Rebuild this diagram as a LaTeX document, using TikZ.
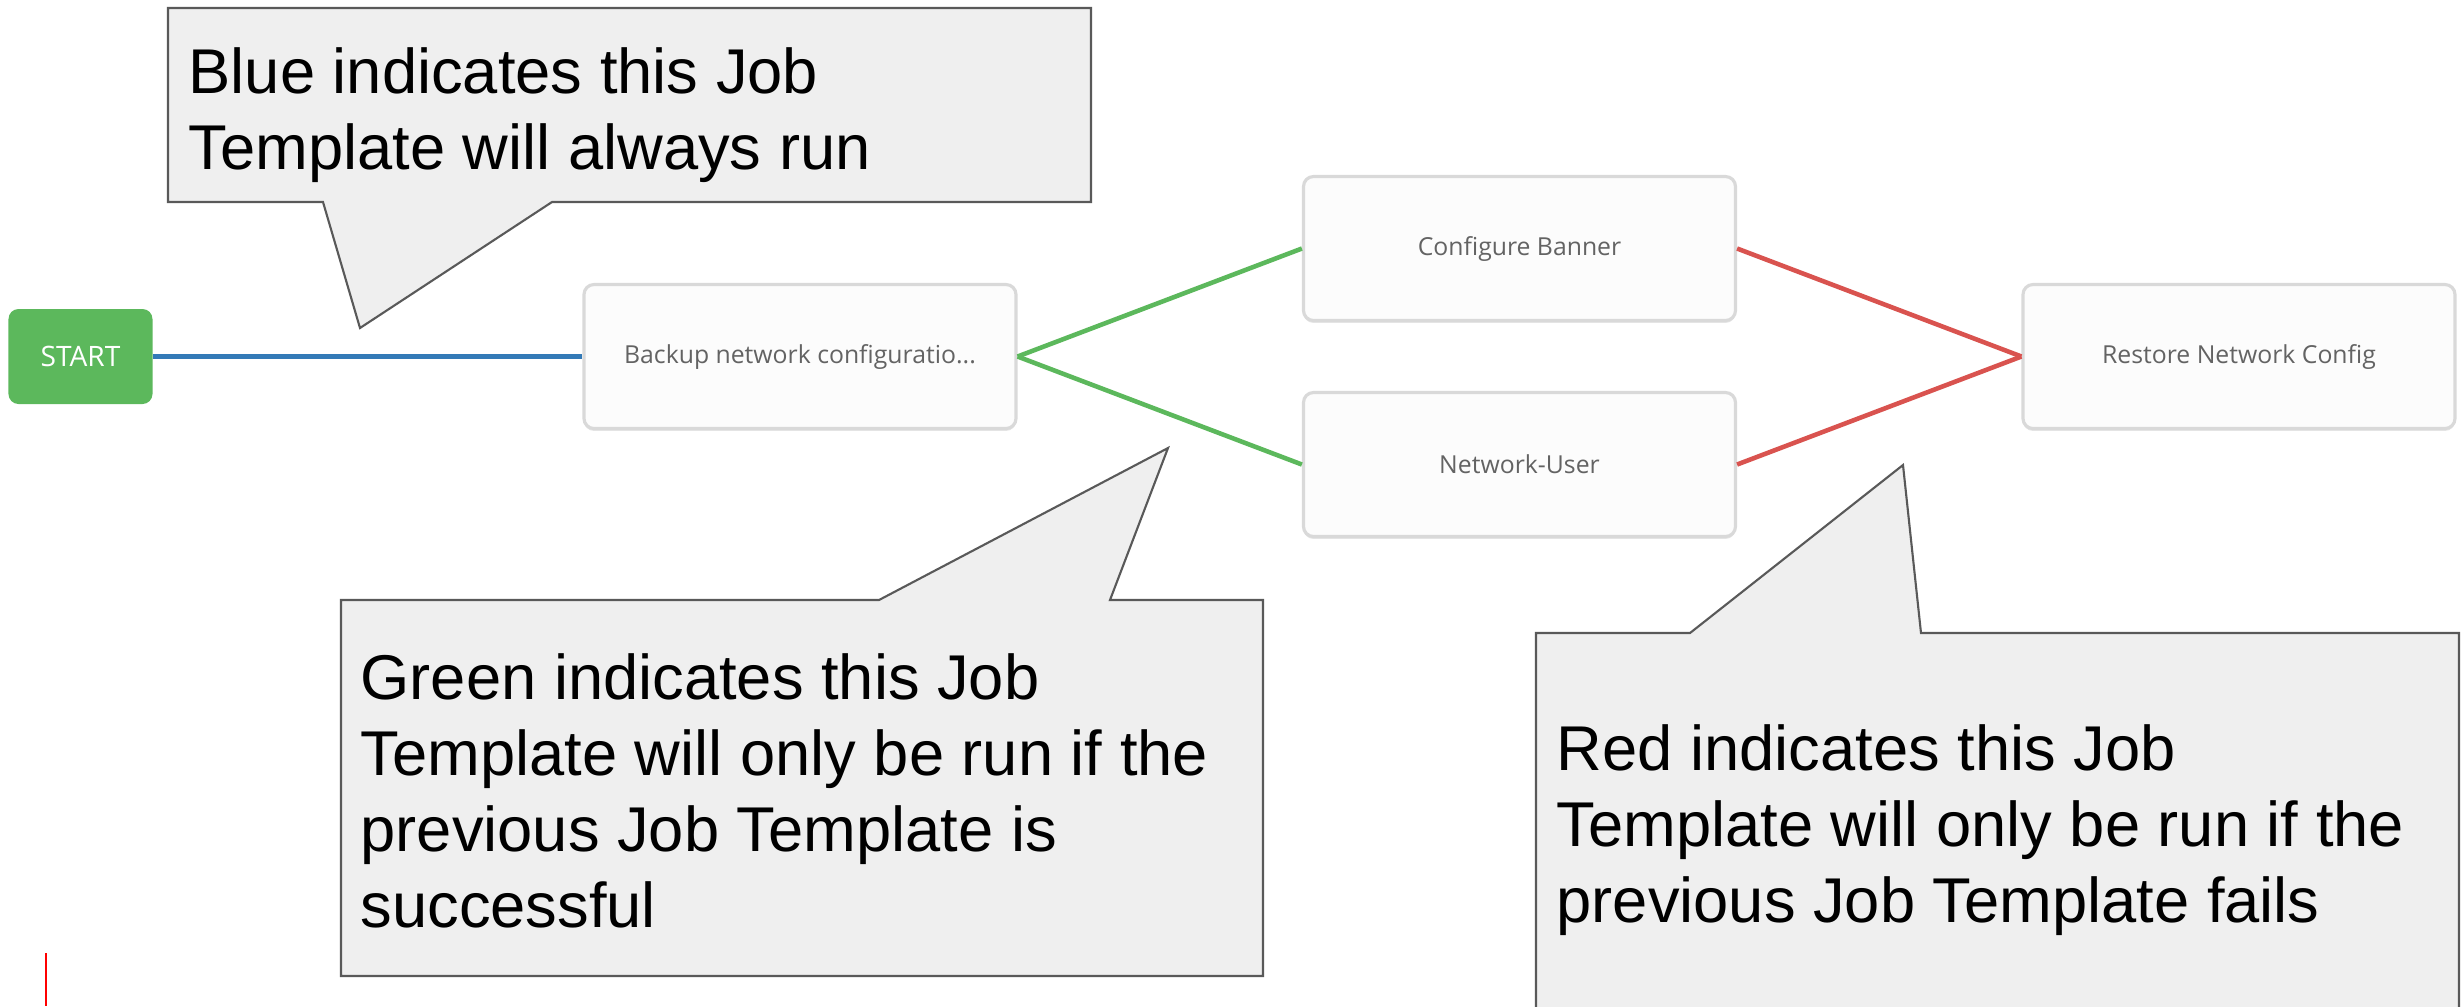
\documentclass[tikz,border=0pt]{standalone}
\usepackage{fontspec}
\setmainfont{Liberation Sans}
\newfontfamily\uifont{Open Sans}
\usetikzlibrary{shadows}
\definecolor{okgreen}{HTML}{5CB85C}
\definecolor{alwaysblue}{HTML}{337AB7}
\definecolor{failred}{HTML}{D9534F}
\definecolor{jobline}{HTML}{D9D9D9}
\definecolor{jobfill}{HTML}{FCFCFC}
\definecolor{jobtext}{HTML}{636363}
\definecolor{notefill}{HTML}{EFEFEF}
\definecolor{noteline}{HTML}{595959}
\tikzset{
	jobnode/.style={draw=jobline, line width=0.9pt, fill=jobfill, rounded corners=0.1cm,
			minimum width=4.32cm, minimum height=1.44cm, text=jobtext,
			font=\uifont\fontsize{7.05}{9}\selectfont,
			drop shadow={shadow xshift=0pt, shadow yshift=-0.7pt, opacity=0.2}},
	startnode/.style={fill=okgreen, rounded corners=0.1cm, minimum width=1.44cm,
			minimum height=0.95cm, text=white, font=\uifont\fontsize{8}{10}\selectfont},
	link/.style={line width=1.3pt},
	note/.style={fill=notefill, draw=noteline, line width=0.6pt},
	notetext/.style={anchor=north west, inner sep=0pt, align=left,
			font=\rmfamily\fontsize{18}{21.6}\selectfont},
}
\begin{document}
\begin{tikzpicture}[
		font=\uifont,
		every node/.style={
				font=\uifont,
			},]
	\useasboundingbox (0,0) rectangle (24.61,-10.06);
	\clip (0,0) rectangle (24.61,-10.06);
	\node[startnode] (start) at (0.805,-3.565) {START};
	\node[jobnode] (backup) at (8.0,-3.565) {Backup network configuratio...};
	\node[jobnode] (banner) at (15.195,-2.485) {Configure Banner};
	\node[jobnode] (netuser) at (15.195,-4.645) {Network-User};
	\node[jobnode] (restore) at (22.39,-3.565) {Restore Network Config};
	\draw[link, alwaysblue] (start) -- (backup);
	\foreach \job in {banner,netuser} {
			\draw[link, okgreen] (backup.east) -- (\job.west);
			\draw[link, failred] (\job.east) -- (restore.west);
		}
	% callouts
	\draw[note] (1.68,-0.08) -- (10.91,-0.08) -- (10.91,-2.02) -- (5.52,-2.02) -- (3.60,-3.28) -- (3.23,-2.02) -- (1.68,-2.02) -- cycle;
	\node[notetext] (bluenote) at (1.88,-0.467) {Blue indicates this Job\\Template will always run};
	\draw[note] (3.41,-6.00) -- (8.79,-6.00) -- (11.68,-4.48) -- (11.10,-6.00) -- (12.63,-6.00) -- (12.63,-9.76) -- (3.41,-9.76) -- cycle;
	\node[notetext] (greennote) at (3.60,-6.527) {Green indicates this Job\\Template will only be run if the\\previous Job Template is\\successful};
	\draw[note] (15.36,-6.33) -- (16.90,-6.33) -- (19.03,-4.65) -- (19.21,-6.33) -- (24.59,-6.33) -- (24.59,-10.6) -- (15.36,-10.6) -- cycle;
	\node[notetext] (rednote) at (15.56,-7.237) {Red indicates this Job\\Template will only be run if the\\previous Job Template fails};
	\draw[red, line width=0.6pt] (0.457,-9.53) -- (0.457,-10.06);
\end{tikzpicture}
\end{document}
